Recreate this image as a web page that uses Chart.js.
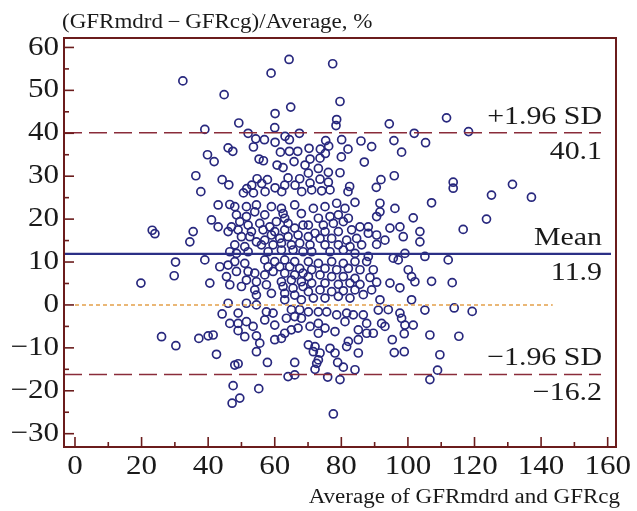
<!DOCTYPE html>
<html>
<head>
<meta charset="utf-8">
<script src="https://cdn.jsdelivr.net/npm/chart.js@4.4.1/dist/chart.umd.min.js"></script>
<style>
  html, body { margin: 0; padding: 0; background: #fff; }
  #wrap { width: 637px; height: 511px; }
</style>
</head>
<body>
<div id="wrap"><canvas id="chart" width="637" height="511"></canvas></div>
<script>
// --- data (x = average, y = difference %) ---
const yTitle = "(GFRmdrd\u2009\u2212\u2009GFRcg)/Average, %"
const xTitle = "Average of GFRmdrd and GFRcg"

const meanDiff = 11.9
const upperLimit = 40.1
const lowerLimit = -16.2

const xRange = [-3.3, 162.5]
const yRange = [-33.1, 62.2]
const xLabelStep = 20
const yLabelStep = 10

const upperBand = [
  [32.4, 52.2], [58.9, 54.0], [64.3, 57.2], [77.4, 56.2], [111.6, 43.6], [118.2, 40.4],
  [113.6, 28.6], [113.6, 27.2], [131.4, 28.1], [125.1, 25.6], [137.1, 25.1],
  [44.8, 49.0], [60.1, 44.6], [64.8, 46.1], [49.2, 42.4], [39.0, 40.9], [60.0, 41.3],
  [52.0, 40.0], [67.4, 40.0], [54.3, 38.7], [56.9, 38.5], [63.1, 39.3], [64.4, 38.5],
  [60.1, 37.9], [53.6, 36.8], [46.0, 36.6], [47.4, 35.8], [39.8, 35.0], [41.8, 33.4],
  [61.7, 35.6], [64.4, 35.8], [66.9, 35.8], [70.3, 36.5], [55.3, 34.0], [56.6, 33.6],
  [65.8, 33.4], [60.7, 32.6], [62.5, 32.0], [69.1, 32.6], [36.3, 30.1], [44.2, 29.2],
  [46.2, 28.0], [37.8, 26.4], [54.7, 29.4], [57.8, 29.2], [64.0, 29.6], [67.5, 29.4],
  [63.0, 27.9], [56.1, 28.3], [53.1, 27.9], [51.6, 27.1], [60.1, 27.3], [66.1, 27.9],
  [50.6, 26.1], [53.6, 26.1], [57.1, 26.4], [62.1, 26.4], [68.1, 26.4],
  [79.6, 47.4], [78.6, 43.2], [78.4, 41.8], [94.4, 42.2], [101.9, 40.0], [105.3, 37.8],
  [75.3, 38.3], [80.1, 38.5], [85.9, 38.2], [89.1, 36.9], [95.8, 38.3], [98.1, 35.6],
  [73.7, 36.3], [76.2, 37.0], [75.2, 35.3], [82.0, 36.3], [80.0, 34.5], [70.6, 34.0],
  [73.6, 34.2], [86.9, 33.3], [73.1, 31.8], [76.1, 30.9], [79.6, 30.8], [70.1, 30.7],
  [91.9, 29.2], [95.9, 30.1], [70.6, 28.4], [73.6, 29.3], [76.1, 28.6], [82.5, 27.6],
  [90.5, 27.4], [71.1, 26.8], [74.1, 26.6], [76.6, 26.8], [82.0, 26.4],
]

const centralLeft = [
  [43.0, 23.3], [46.5, 23.4], [48.0, 22.9], [51.5, 22.9], [54.5, 23.3], [59.0, 22.9],
  [62.0, 22.5], [66.0, 23.3], [41.0, 19.8], [48.5, 21.0], [51.5, 20.6], [54.0, 21.7],
  [57.0, 21.0], [62.5, 21.3], [63.0, 20.2], [68.0, 21.3], [43.0, 18.2], [47.0, 18.2],
  [49.5, 19.4], [52.0, 18.6], [55.5, 19.0], [58.5, 18.2], [60.5, 19.4], [64.0, 19.0],
  [66.0, 17.9], [68.5, 18.6], [35.5, 17.1], [46.0, 17.1], [49.0, 17.5], [53.0, 17.1],
  [56.5, 17.5], [60.0, 17.1], [63.0, 17.5], [34.5, 14.7], [50.0, 15.9], [52.5, 15.9],
  [54.5, 14.7], [57.0, 15.1], [59.0, 16.3], [61.5, 15.5], [64.0, 15.9], [67.0, 16.3],
  [48.0, 14.0], [51.0, 13.6], [56.0, 14.0], [59.5, 14.0], [62.0, 14.4], [65.0, 14.0],
  [67.5, 14.4], [46.5, 12.4], [48.5, 12.0], [52.0, 12.4], [58.0, 12.4], [62.0, 12.8],
  [65.5, 12.8], [68.5, 12.4], [39.0, 10.5], [51.0, 9.7], [57.0, 10.5], [60.0, 10.1],
  [63.0, 10.5], [66.0, 10.1], [43.5, 8.9], [46.0, 9.3], [48.0, 10.1], [58.0, 8.9],
  [61.5, 8.9], [64.5, 8.9], [67.5, 8.5], [45.5, 6.6], [48.5, 7.8], [52.0, 7.8],
  [54.0, 7.4], [57.0, 7.0], [59.5, 7.8], [63.0, 7.4], [66.0, 7.0], [68.5, 7.4],
  [51.5, 5.8], [54.5, 5.4], [62.0, 5.4], [65.0, 5.8], [68.0, 5.4], [40.5, 5.1],
  [46.5, 4.7], [50.0, 4.3], [54.0, 3.5], [57.5, 4.7], [62.5, 4.3], [65.5, 3.9],
  [68.5, 4.3], [54.5, 2.3], [59.0, 2.7], [63.0, 2.7], [66.0, 2.3], [63.0, 1.2],
  [68.0, 1.2], [46.0, 0.4], [51.5, 0.4], [54.5, 0.0], [65.0, -1.1], [67.5, -1.1],
]

const centralRight = [
  [71.6, 22.5], [75.1, 22.9], [78.6, 23.7], [81.1, 22.5], [84.1, 23.9], [91.6, 23.7],
  [96.1, 22.5], [73.1, 20.2], [76.6, 20.6], [79.1, 21.0], [82.1, 20.2], [91.6, 21.7],
  [90.6, 20.6], [101.6, 20.3], [70.1, 18.6], [74.6, 18.6], [77.6, 19.0], [80.6, 19.4],
  [85.6, 18.2], [88.1, 18.2], [94.6, 17.9], [97.6, 18.2], [103.6, 17.1], [72.1, 16.7],
  [75.1, 17.1], [79.1, 17.1], [83.1, 17.5], [88.1, 16.7], [90.6, 16.3], [98.6, 15.9],
  [70.1, 15.9], [73.6, 15.5], [77.1, 15.5], [81.6, 15.1], [84.6, 15.5], [93.1, 15.1],
  [103.6, 14.7], [70.6, 14.0], [75.1, 14.0], [79.1, 14.0], [82.6, 13.6], [86.1, 14.0],
  [90.6, 14.1], [71.1, 12.4], [76.6, 12.4], [80.6, 12.8], [84.1, 12.0], [88.1, 11.3],
  [95.6, 10.9], [99.1, 12.0], [105.1, 11.3], [70.1, 10.1], [73.1, 9.7], [77.1, 10.1],
  [80.6, 9.7], [84.1, 10.1], [87.6, 10.1], [97.1, 10.5], [71.1, 8.2], [75.1, 8.5],
  [78.6, 8.2], [82.1, 8.5], [85.6, 8.2], [89.6, 8.2], [100.1, 8.2], [70.1, 6.6],
  [73.6, 7.0], [77.1, 6.6], [80.6, 6.6], [84.1, 6.2], [88.6, 6.4], [101.1, 6.6],
  [102.1, 5.4], [71.1, 5.1], [75.1, 5.1], [79.1, 4.8], [82.6, 5.1], [85.6, 4.8],
  [90.6, 5.3], [94.6, 5.1], [97.6, 4.0], [70.1, 3.1], [73.6, 3.5], [77.1, 3.1],
  [80.6, 3.3], [84.1, 3.5], [89.1, 3.5], [71.6, 1.6], [75.1, 1.6], [79.1, 2.0],
  [82.6, 1.6], [86.6, 2.4], [91.6, 1.2], [101.1, 1.2], [94.1, -1.1],
]

const lowerBand = [
  [44.2, -2.1], [49.0, -1.9], [51.5, -3.9], [46.5, -4.3], [49.0, -4.3], [57.5, -1.6],
  [59.5, -1.9], [63.5, -3.1], [66.0, -2.7], [68.0, -3.1], [57.0, -3.5], [60.0, -4.7],
  [53.5, -5.0], [49.0, -6.0], [51.0, -7.4], [54.5, -7.2], [37.2, -7.8], [40.0, -7.2],
  [41.5, -7.0], [60.0, -8.1], [62.0, -7.8], [63.0, -6.6], [65.0, -5.8], [67.0, -5.4],
  [55.5, -8.9], [54.5, -10.9], [42.5, -11.5], [48.0, -14.0], [49.0, -13.7], [57.8, -13.4],
  [66.0, -13.4], [64.0, -16.7], [66.0, -16.3], [47.5, -18.8], [55.2, -19.5], [49.5, -21.7],
  [47.2, -22.9],
  [70.1, -1.6], [73.1, -1.6], [75.6, -1.6], [78.6, -2.3], [81.6, -1.9], [83.6, -2.3],
  [86.6, -2.3], [91.1, -1.2], [97.6, -1.9], [98.1, -3.1], [105.1, -1.2], [70.6, -5.0],
  [73.1, -4.3], [75.1, -5.4], [78.1, -6.2], [81.1, -3.9], [85.1, -5.8], [87.6, -4.3],
  [87.6, -6.6], [89.6, -6.6], [92.1, -4.3], [93.1, -5.0], [99.1, -4.7], [101.6, -4.7],
  [98.9, -6.7], [106.6, -7.0], [73.1, -6.6], [82.1, -8.5], [85.1, -8.1], [81.6, -9.7],
  [95.3, -8.1], [70.1, -9.3], [72.1, -9.7], [71.6, -10.9], [73.6, -11.2], [76.6, -10.1],
  [78.1, -11.2], [85.1, -11.2], [95.9, -11.1], [98.9, -10.9], [73.1, -12.8], [72.6, -13.6],
  [78.9, -13.4], [80.6, -14.5], [72.1, -15.0], [84.1, -15.1], [75.9, -16.8], [79.6, -17.4],
  [106.6, -17.4], [77.6, -25.4],
]

const outerPoints = [
  [23.2, 17.4], [24.0, 16.6], [30.2, 10.0], [29.8, 6.8], [19.8, 5.1], [26.0, -7.4],
  [30.3, -9.5], [107.1, 23.8], [123.6, 20.0], [116.6, 17.6], [112.1, 10.5], [107.1, 5.5],
  [113.3, 5.2], [113.9, -0.7], [119.3, -1.5], [115.3, -7.3], [109.6, -11.6], [108.9, -15.2],
]

// extents of the reference lines along x
const limitLineEnd = 158
const meanLineEnd = 161
const zeroLineSpan = [0, 143.5]

const allPoints = [...upperBand, ...centralLeft, ...centralRight, ...lowerBand, ...outerPoints]
  .map(([x, y]) => ({ x, y }))

const SERIF = '"Liberation Serif", "Times New Roman", serif'
const STRETCH = 1.15

function wideText(ctx, text, x, y, align) {
  ctx.save()
  ctx.translate(x, y)
  ctx.scale(STRETCH, 1)
  ctx.textAlign = align
  ctx.fillText(text, 0, 0)
  ctx.restore()
}

const fmt = (v) => (v < 0 ? "\u2212" + Math.abs(v) : String(v))

// frame, inward ticks, labels and annotations
const decorPlugin = {
  id: "blandAltmanDecor",
  beforeDraw(chart) {
    const { ctx } = chart
    ctx.save()
    ctx.fillStyle = "#ffffff"
    ctx.fillRect(0, 0, chart.width, chart.height)
    ctx.restore()
  },
  afterDraw(chart) {
    const { ctx, chartArea } = chart
    const { left, top, right, bottom } = chartArea
    const xs = chart.scales.x
    const ys = chart.scales.y

    ctx.save()
    ctx.strokeStyle = "#6b1c1c"
    ctx.lineWidth = 2
    ctx.strokeRect(left, top, right - left, bottom - top)

    ctx.lineWidth = 1.6
    ctx.fillStyle = "#1a1a1a"
    ctx.font = `27px ${SERIF}`
    ctx.textBaseline = "middle"

    xs.ticks.forEach((t) => {
      const px = xs.getPixelForValue(t.value)
      const major = t.value % xLabelStep === 0
      ctx.beginPath()
      ctx.moveTo(px, bottom)
      ctx.lineTo(px, bottom - (major ? 10 : 5))
      ctx.stroke()
      if (major) wideText(ctx, fmt(t.value), px, bottom + 20, "center")
    })

    ys.ticks.forEach((t) => {
      const py = ys.getPixelForValue(t.value)
      const major = t.value % yLabelStep === 0
      ctx.beginPath()
      ctx.moveTo(left, py)
      ctx.lineTo(left + (major ? 10 : 5), py)
      ctx.stroke()
      if (major) wideText(ctx, fmt(t.value), left - 5, py, "right")
    })

    // axis titles
    ctx.textBaseline = "alphabetic"
    ctx.font = `20px ${SERIF}`
    wideText(ctx, yTitle, left - 2, 28, "left")
    wideText(ctx, xTitle, right + 4, 503, "right")

    // limit annotations
    ctx.font = `26px ${SERIF}`
    const tx = xs.getPixelForValue(limitLineEnd) + 1
    const notes = [
      ["+1.96 SD", upperLimit],
      ["Mean", meanDiff],
      ["\u22121.96 SD", lowerLimit],
    ]
    notes.forEach(([name, v]) => {
      const py = ys.getPixelForValue(v)
      wideText(ctx, name, tx, py - 9, "right")
      wideText(ctx, fmt(v), tx, py + 26, "right")
    })
    ctx.restore()
  },
}

const hLine = (y, x0, x1) => [{ x: x0, y }, { x: x1, y }]

new Chart(document.getElementById("chart"), {
  type: "scatter",
  plugins: [decorPlugin],
  data: {
    datasets: [
      {
        type: "line",
        data: hLine(upperLimit, xRange[0], limitLineEnd),
        borderColor: "#8a2c3a",
        borderWidth: 1.5,
        borderDash: [18, 7],
        pointRadius: 0,
      },
      {
        type: "line",
        data: hLine(lowerLimit, xRange[0], limitLineEnd),
        borderColor: "#8a2c3a",
        borderWidth: 1.5,
        borderDash: [18, 7],
        pointRadius: 0,
      },
      {
        type: "line",
        data: hLine(meanDiff, xRange[0], meanLineEnd),
        borderColor: "#2b2f86",
        borderWidth: 2.2,
        pointRadius: 0,
      },
      {
        type: "line",
        data: hLine(0, zeroLineSpan[0], zeroLineSpan[1]),
        borderColor: "#e3a04a",
        borderWidth: 1.4,
        borderDash: [4, 3],
        pointRadius: 0,
      },
      {
        data: allPoints,
        pointStyle: "circle",
        pointRadius: 4,
        borderWidth: 1.7,
        borderColor: "#28287e",
        backgroundColor: "rgba(255, 255, 255, 0)",
      },
    ],
  },
  options: {
    responsive: false,
    animation: false,
    layout: { padding: { left: 64, top: 38, right: 21, bottom: 64 } },
    scales: {
      x: {
        type: "linear",
        display: false,
        min: xRange[0],
        max: xRange[1],
        ticks: { stepSize: 10, includeBounds: false },
      },
      y: {
        type: "linear",
        display: false,
        min: yRange[0],
        max: yRange[1],
        ticks: { stepSize: 5, includeBounds: false },
      },
    },
    plugins: {
      legend: { display: false },
      tooltip: { enabled: false },
    },
  },
})
</script>
</body>
</html>
